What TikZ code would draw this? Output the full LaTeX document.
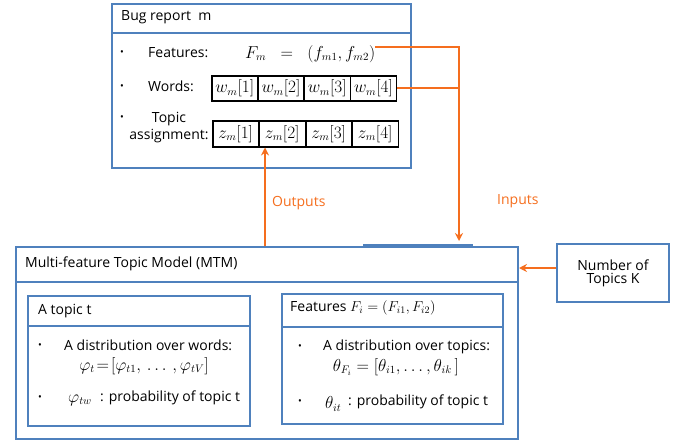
\documentclass[tikz,border=0pt]{standalone}
\usepackage{fontspec}
\setmainfont{Open Sans}
\usetikzlibrary{arrows.meta}
\definecolor{bblue}{RGB}{79,129,189}
\definecolor{orng}{RGB}{245,110,30}
\newcommand\mth[1]{{\fontsize{16}{18}\selectfont$#1$}}
\newcommand\smth[1]{{\fontsize{14}{16}\selectfont$#1$}}
\begin{document}
\begin{tikzpicture}[x=1pt,y=-1pt,
  font=\fontsize{14}{16}\selectfont,
  bbox/.style={draw=bblue,line width=2pt,anchor=north west,inner sep=0pt},
  divline/.style={draw=bblue,line width=2pt},
  cell/.style={draw=black,line width=1.5pt,minimum width=46pt,inner sep=0pt,anchor=north west},
  lbl/.style={anchor=west,inner sep=0pt},
  bul/.style={anchor=center,inner sep=0pt,font=\fontsize{10}{11}\selectfont},
  oline/.style={draw=orng,line width=1.8pt},
  arr/.style={oline,-{Stealth[length=8pt,width=8pt]}},
  otext/.style={lbl,text=orng}
]
\useasboundingbox (0,0) rectangle (685,444);

% ---------- Bug report box ----------
\node[bbox,minimum width=299pt,minimum height=164pt] (bug) at (111,3) {};
\draw[divline] ([yshift=-30pt]bug.north west) -- ([yshift=-30pt]bug.north east);
\node[lbl] (bugt) at (121,17) {Bug report\ \ m};

\node[bul] (b1) at (122,53) {•};
\node[lbl] (feat) at (148,53) {Features:};
\node[lbl] (fm) at (245,54) {\mth{F_m \;\;=\;\; (f_{m1}, f_{m2})}};

\node[bul] (b2) at (122,87) {•};
\node[lbl] (words) at (148,86) {Words:};
\foreach \i in {1,...,4}
  \node[cell,minimum height=25pt] (w\i) at ({211+46.25*(\i-1)},75) {\mth{w_m[\i]}};

\node[bul] (b3) at (122,118) {•};
\node[align=center,inner sep=0pt] (ta) at (169,128) {Topic\\[1pt]assignment:};
\foreach \i in {1,...,4}
  \node[cell,minimum height=26pt] (z\i) at ({212+46.5*(\i-1)},120) {\mth{z_m[\i]}};

% ---------- MTM box ----------
\node[bbox,minimum width=502pt,minimum height=192pt] (mtm) at (15,246) {};
\draw[divline] ([yshift=-36pt]mtm.north west) -- ([yshift=-36pt]mtm.north east);
\draw[draw=bblue,line width=3.2pt] (363,246) -- (473,246);
\node[lbl] (mtmt) at (25,264) {Multi-feature Topic Model (MTM)};

% topic t box
\node[bbox,minimum width=222pt,minimum height=130pt] (tt) at (27,295) {};
\draw[divline] ([yshift=-31pt]tt.north west) -- ([yshift=-31pt]tt.north east);
\node[lbl] (ttt) at (38,311) {A topic t};
\node[bul] (b4) at (40,346) {•};
\node[lbl] (dw) at (64,345) {A distribution over words:};
\node[inner sep=0pt] (phi) at (144,366) {\mth{\varphi_t\!=\![\varphi_{t1},\,\dots\,,\varphi_{tV}]}};
\node[bul] (b5) at (40,398) {•};
\node[lbl] (phitw) at (68,400) {\mth{\varphi_{tw}}};
\node[lbl] (pt1) at (100,398) {: probability of topic t};

% features box
\node[bbox,minimum width=221pt,minimum height=130pt] (fb) at (281,293) {};
\draw[divline] ([yshift=-34pt]fb.north west) -- ([yshift=-34pt]fb.north east);
\node[lbl] (fbt) at (290,308) {Features \smth{F_i = (F_{i1}, F_{i2})}};
\node[bul] (b6) at (300,347) {•};
\node[lbl] (dt) at (323,347) {A distribution over topics:};
\node[inner sep=0pt] (theta) at (396,367) {\mth{\theta_{F_i} = [\theta_{i1},\dots,\theta_{ik}\,]}};
\node[bul] (b7) at (300,402) {•};
\node[lbl] (thit) at (325,404) {\mth{\theta_{it}}};
\node[lbl] (pt2) at (348,402) {: probability of topic t};

% number of topics
\node[bbox,minimum width=112pt,minimum height=58pt,align=center] (K) at (556,243) {Number of\\[-3pt]Topics K};

% ---------- connectors ----------
\coordinate (jn) at (459,47);
\draw[arr,shorten >=5pt] (fm.east |- jn) -- (jn) -- (jn |- mtm.north);
\draw[oline] (w4.east) -- (w4.east -| jn);
\node[otext] (inputs) at (497,201) {Inputs};

\coordinate (ox) at (265,0);
\draw[arr] (mtm.north -| ox) -- (ox |- z2.south);
\node[otext] (outputs) at (272,203) {Outputs};

\draw[arr] ([yshift=5pt]K.west) -- ([yshift=5pt]K.west -| mtm.east);
\end{tikzpicture}
\end{document}
